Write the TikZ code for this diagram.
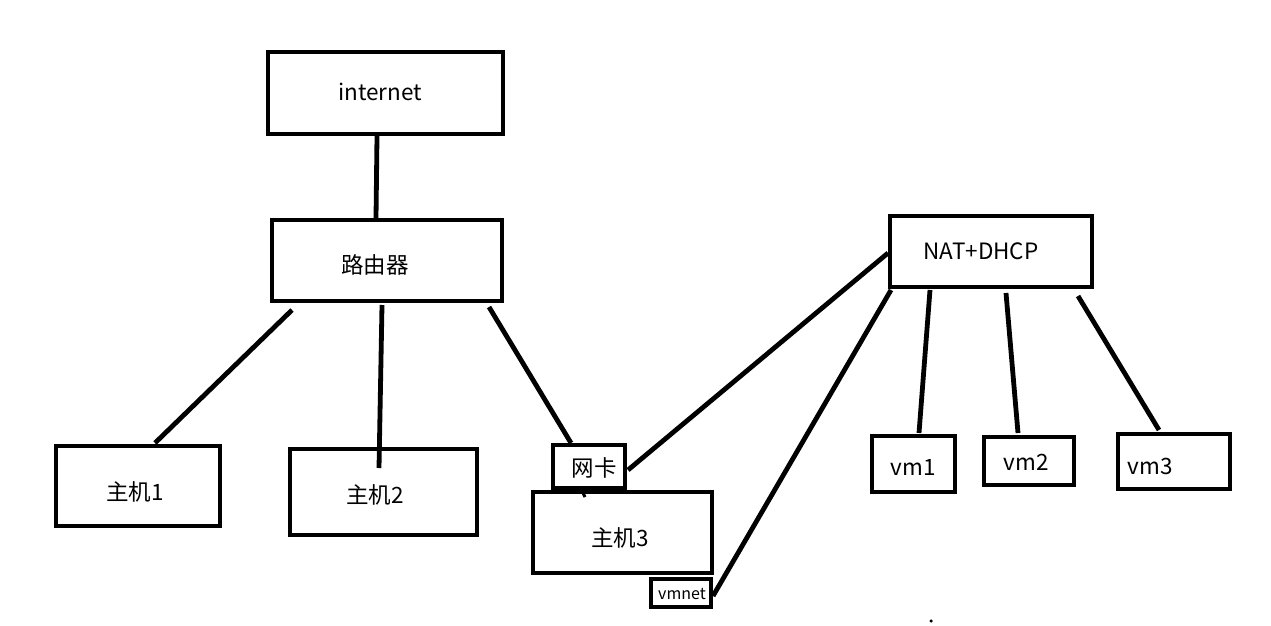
\documentclass[tikz,border=0pt]{standalone}
\usepackage{fontspec}
\setmainfont{Noto Sans CJK SC}
\begin{document}
\begin{tikzpicture}[x=1pt,y=-1pt,
  box/.style={draw=black,line width=4.5pt,rectangle,inner sep=0pt},
  lbl/.style={inner sep=0pt,font=\fontsize{22.5}{26}\selectfont},
  small/.style={inner sep=0pt,font=\fontsize{16}{18}\selectfont},
  wire/.style={draw=black,line width=4.8pt}]
\useasboundingbox[fill=white] (0,0) rectangle (1271,626);
% boxes
\node[box,minimum width=235pt,minimum height=82pt] (inet) at (385.5,93) {};
\node[box,minimum width=230pt,minimum height=81pt] (router) at (387,260.5) {};
\node[box,minimum width=164pt,minimum height=80pt] (h1) at (138,486) {};
\node[box,minimum width=187pt,minimum height=86pt] (h2) at (383.5,492) {};
\node[box,minimum width=72pt,minimum height=43pt] (nic) at (589,466.5) {};
\node[box,minimum width=179pt,minimum height=81pt] (h3) at (622.5,532.5) {};
\node[box,minimum width=60pt,minimum height=28pt] (vmnet) at (681,593) {};
\node[box,minimum width=202pt,minimum height=71pt] (nat) at (991,251.5) {};
\node[box,minimum width=83pt,minimum height=56pt] (vm1) at (913.5,464) {};
\node[box,minimum width=90pt,minimum height=48pt] (vm2) at (1029,461) {};
\node[box,minimum width=112pt,minimum height=55pt] (vm3) at (1174,461.5) {};
% labels
\node[lbl] (t-inet) at (380,92) {internet};
\node[lbl] (t-router) at (375,265) {路由器};
\node[lbl] (t-h1) at (135,492) {主机1};
\node[lbl] (t-h2) at (375,495) {主机2};
\node[lbl] (t-nic) at (594,468) {网卡};
\node[lbl] (t-h3) at (620,538) {主机3};
\node[small] (t-vmnet) at (682,594) {vmnet};
\node[lbl] (t-nat) at (981,251) {NAT+DHCP};
\node[lbl] (t-vm1) at (913,467) {vm1};
\node[lbl] (t-vm2) at (1026,462) {vm2};
\node[lbl] (t-vm3) at (1150,466) {vm3};
% connector endpoints
\coordinate (r-top) at (376,218);
\coordinate (r-a) at (292,310);
\coordinate (r-b) at (382,305);
\coordinate (r-c) at (489,307);
\coordinate (h1-top) at (155,443);
\coordinate (h2-in) at (379,468);
\coordinate (nic-top) at (571,443);
\coordinate (nic-r) at (628,470);
\coordinate (nic-b) at (580,487);
\coordinate (h3-in) at (585,497);
\coordinate (vmnet-r) at (713,596);
\coordinate (nat-l) at (888,253);
\coordinate (nat-bl) at (891,290);
\coordinate (nat-a) at (930,290);
\coordinate (nat-b) at (1006,293);
\coordinate (nat-c) at (1078,296);
\coordinate (vm1-top) at (919,433);
\coordinate (vm2-top) at (1018,433);
\coordinate (vm3-top) at (1159,430);
\coordinate (inet-b) at (377,136);
% connectors
\draw[wire] (inet-b) -- (r-top);
\draw[wire] (r-a) -- (h1-top);
\draw[wire] (r-b) -- (h2-in);
\draw[wire] (r-c) -- (nic-top);
\draw[wire] (nic-r) -- (nat-l);
\draw[wire] (vmnet-r) -- (nat-bl);
\draw[wire] (nat-a) -- (vm1-top);
\draw[wire] (nat-b) -- (vm2-top);
\draw[wire] (nat-c) -- (vm3-top);
\draw[wire,line width=3pt] (nic-b) -- (h3-in);
\node[circle,fill=black,inner sep=0pt,minimum size=3.5pt] (dot) at (931,621) {};
\end{tikzpicture}
\end{document}
